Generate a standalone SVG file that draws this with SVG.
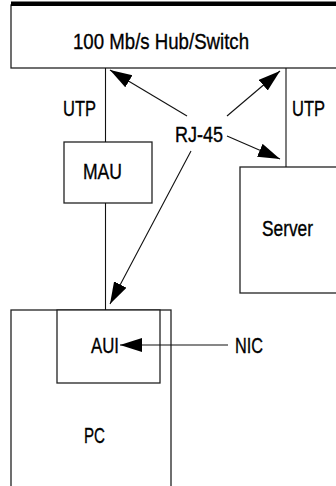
<svg xmlns="http://www.w3.org/2000/svg" width="336" height="486" viewBox="0 0 336 486">
<style>
.box{fill:#fff;stroke:#222;stroke-width:1.3}
.ln{fill:none;stroke:#111;stroke-width:1.1}
.t{font-family:"Liberation Sans Narrow","Liberation Sans",Arial,sans-serif;font-size:22px;fill:#000;stroke:#000;stroke-width:0.35}
</style>
<defs>
<marker id="ah" markerUnits="userSpaceOnUse" markerWidth="24" markerHeight="16" refX="22" refY="7" orient="auto">
<path d="M0,0 L22,7 L0,14 Z" fill="#000"/>
</marker>
</defs>
<rect x="0" y="0" width="336" height="486" fill="#fff"/>
<g id="hub">
<rect class="box" x="11" y="5" width="340" height="63"/>
<rect x="11" y="1.5" width="325" height="4.5" fill="#000"/>
<text class="t" x="73" y="48.5" textLength="176" lengthAdjust="spacingAndGlyphs">100 Mb/s Hub/Switch</text>
</g>
<g id="mau">
<rect class="box" x="64" y="142" width="88" height="61"/>
<text class="t" x="83" y="179" textLength="39" lengthAdjust="spacingAndGlyphs">MAU</text>
</g>
<g id="server">
<rect class="box" x="240" y="167" width="110" height="126"/>
<text class="t" x="262" y="236" textLength="51" lengthAdjust="spacingAndGlyphs">Server</text>
</g>
<g id="pc">
<rect class="box" x="11" y="310" width="160" height="190"/>
<text class="t" x="84" y="443" textLength="21" lengthAdjust="spacingAndGlyphs">PC</text>
</g>
<g id="aui">
<rect class="box" x="57" y="310" width="103" height="73"/>
<text class="t" x="91" y="353" textLength="28" lengthAdjust="spacingAndGlyphs">AUI</text>
</g>
<g id="labels">
<text class="t" x="63" y="116" textLength="33" lengthAdjust="spacingAndGlyphs">UTP</text>
<text class="t" x="292" y="116" textLength="33" lengthAdjust="spacingAndGlyphs">UTP</text>
<text class="t" x="175" y="142" textLength="48" lengthAdjust="spacingAndGlyphs">RJ-45</text>
<text class="t" x="235" y="353" textLength="28" lengthAdjust="spacingAndGlyphs">NIC</text>
</g>
<g id="connectors">
<line class="ln" x1="105.5" y1="68" x2="105.5" y2="142"/>
<line class="ln" x1="105.5" y1="203" x2="105.5" y2="310"/>
<line class="ln" x1="286" y1="68" x2="286" y2="167"/>
<line class="ln" x1="187" y1="116" x2="110" y2="70" marker-end="url(#ah)"/>
<line class="ln" x1="227" y1="116" x2="280" y2="71" marker-end="url(#ah)"/>
<line class="ln" x1="227" y1="136" x2="280" y2="159" marker-end="url(#ah)"/>
<line class="ln" x1="191" y1="151" x2="110" y2="304" marker-end="url(#ah)"/>
<line class="ln" x1="228" y1="345" x2="120" y2="345" marker-end="url(#ah)"/>
</g>
</svg>
